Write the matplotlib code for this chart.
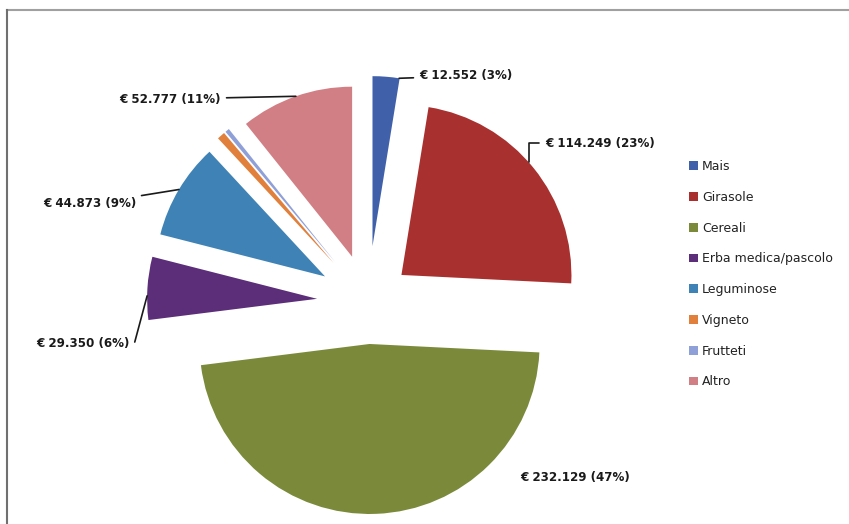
import numpy as np
import matplotlib
matplotlib.use('Agg')
import matplotlib.pyplot as plt
from matplotlib.lines import Line2D

# dati
categorie = ['Mais', 'Girasole', 'Cereali', 'Erba medica/pascolo',
             'Leguminose', 'Vigneto', 'Frutteti', 'Altro']
valori = [12552, 114249, 232129, 29350, 44873, 3700, 2000, 52777]
etichette = ['€ 12.552 (3%)', '€ 114.249 (23%)', '€ 232.129 (47%)', '€ 29.350 (6%)',
             '€ 44.873 (9%)', '', '', '€ 52.777 (11%)']
colori = ['#4060AA', '#A8302E', '#7A8A3A', '#5C2D78',
          '#3F82B5', '#E0803C', '#8FA0D8', '#D17E84']

W, H = 849, 524
fig = plt.figure(figsize=(W / 100, H / 100), dpi=100)
ax = fig.add_axes([0, 0, 1, 1])

centro = (368, H - 302)
raggio = 170
esplodi = [56, 43, 42, 51, 50, 52, 52, 48]

wedges, _ = ax.pie(valori, colors=colori, startangle=90, counterclock=False,
                   radius=raggio, center=centro, explode=esplodi,
                   wedgeprops=dict(linewidth=0), frame=True)
ax.set_xlim(0, W)
ax.set_ylim(0, H)
ax.set_aspect('equal')
ax.axis('off')

# posizione etichette (pixel dall'alto), allineamento, punto sull'arco, stile linea
font_lab = dict(family=['DejaVu Sans'], fontsize=8.6, fontweight='bold', color='#1a1a1a')
pos_lab = {0: (419, 76, 'left', 0.02, 'arc3'),
           1: (545, 143, 'left', 0.53, 'angle,angleA=0,angleB=90,rad=0'),
           2: (520, 477, 'left', None, None),
           3: (130, 344, 'right', 0.62, 'angle,angleA=0,angleB=75,rad=0'),
           4: (136, 204, 'right', 0.5, 'arc3'),
           7: (221, 99, 'right', 0.5, 'arc3')}

for i, (x, y, ha, frac, stile) in pos_lab.items():
    w = wedges[i]
    if frac is None:
        ax.text(x, H - y, etichette[i], ha=ha, va='center', **font_lab)
        continue
    ang = np.deg2rad(w.theta1 + frac * (w.theta2 - w.theta1))
    px = w.center[0] + w.r * np.cos(ang)
    py = w.center[1] + w.r * np.sin(ang)
    ax.annotate(etichette[i], xy=(px, py), xytext=(x, H - y), ha=ha, va='center',
                arrowprops=dict(arrowstyle='-', lw=1.2, color='#1a1a1a',
                                shrinkA=2, shrinkB=0, connectionstyle=stile),
                **font_lab)

leg = ax.legend(wedges, categorie, loc='upper left', bbox_to_anchor=(684 / W, 1 - 155 / H),
                frameon=False, handlelength=0.7, handleheight=0.7, handletextpad=0.35,
                labelspacing=1.42, borderaxespad=0, prop=dict(size=9))
for t in leg.get_texts():
    t.set_color('#222222')

# cornice
fig.add_artist(Line2D([7 / W, 1], [1 - 10 / H, 1 - 10 / H], color='#a0a0a0', lw=1.5))
fig.add_artist(Line2D([7 / W, 7 / W], [0, 1 - 10 / H], color='#707070', lw=1.5))

fig.savefig('out.png', dpi=100, facecolor='white')
